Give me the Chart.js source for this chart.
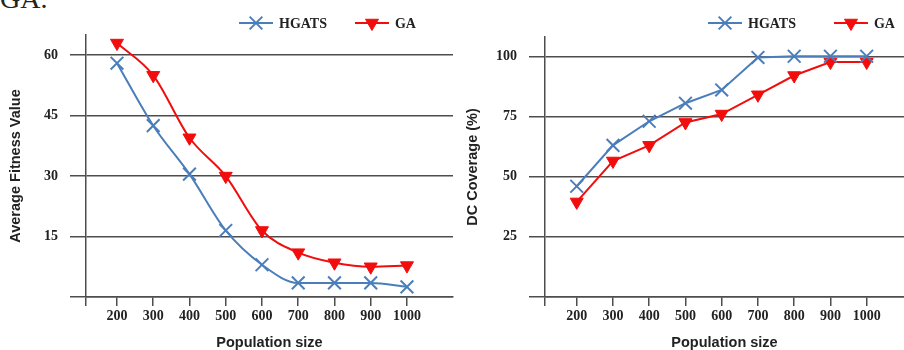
<!DOCTYPE html>
<html>
<head>
<meta charset="utf-8">
<script src="https://cdn.jsdelivr.net/npm/chart.js@4/dist/chart.umd.min.js"></script>
<style>
  body { margin: 0; width: 904px; height: 350px; background: #fff; overflow: hidden; position: relative; }
  #caption { position: absolute; left: 0; top: -15px; font: 28px/28px "Liberation Serif", serif; color: #222; }
  #fitnessChart { position: absolute; left: 0; top: 0; }
  #coverageChart { position: absolute; left: 455px; top: 0; }
</style>
</head>
<body>
<div id="caption">GA.</div>
<canvas id="fitnessChart" width="455" height="350"></canvas>
<canvas id="coverageChart" width="449" height="350"></canvas>
<script>
const populationSizes = [200, 300, 400, 500, 600, 700, 800, 900, 1000];

const fitnessHGATS = [58, 42.5, 30.5, 16.5, 8, 3.5, 3.5, 3.5, 2.5];
const fitnessGA = [63, 55, 39.5, 30, 16.5, 11, 8.5, 7.5, 7.8];
const fitnessTicks = [15, 30, 45, 60];

const coverageHGATS = [46, 63, 73, 80.5, 86, 99.5, 100, 100, 100];
const coverageGA = [39.5, 56.5, 63, 72.5, 76, 84, 92, 97.6, 97.6];
const coverageTicks = [25, 50, 75, 100];

const blue = '#4a7ebb';
const red = '#f20d0d';
const gridColor = '#4d4d4d';
const tickFont = { family: '"Liberation Serif", serif', size: 14, weight: 'bold' };
const titleFont = { family: '"Liberation Sans", Arial, sans-serif', size: 14.5, weight: 'bold' };

function toPoints(values) {
  return values.map((v, i) => ({ x: populationSizes[i], y: v }));
}

// legend drawn as line + marker + label, like the excel one
const lineLegend = {
  id: 'lineLegend',
  afterDraw(chart, args, opts) {
    const ctx = chart.ctx;
    let x = opts.x;
    const y = opts.y;
    ctx.save();
    ctx.font = 'bold 14px "Liberation Serif", serif';
    ctx.textBaseline = 'middle';
    chart.data.datasets.forEach(ds => {
      ctx.strokeStyle = ds.borderColor;
      ctx.fillStyle = ds.pointBackgroundColor;
      ctx.lineWidth = 2;
      ctx.beginPath();
      ctx.moveTo(x, y);
      ctx.lineTo(x + opts.lineLen, y);
      ctx.stroke();
      ctx.lineWidth = ds.pointBorderWidth;
      Chart.helpers.drawPoint(ctx, {
        pointStyle: ds.pointStyle,
        rotation: ds.pointRotation || 0,
        radius: ds.pointRadius,
        borderWidth: ds.pointBorderWidth
      }, x + opts.lineLen / 2, y);
      ctx.fillStyle = '#222';
      ctx.fillText(ds.label, x + opts.lineLen + 6, y + 1);
      x += opts.lineLen + 6 + ctx.measureText(ds.label).width + opts.gap;
    });
    ctx.restore();
  }
};

function hgatsSet(data, smooth) {
  return {
    label: 'HGATS', data: toPoints(data),
    borderColor: blue, backgroundColor: blue, borderWidth: 2,
    pointStyle: 'crossRot', pointRadius: 9, pointBorderWidth: 2,
    pointBorderColor: blue, pointBackgroundColor: blue,
    cubicInterpolationMode: smooth ? 'monotone' : 'default', tension: 0
  };
}

function gaSet(data, smooth) {
  return {
    label: 'GA', data: toPoints(data),
    borderColor: red, backgroundColor: red, borderWidth: 2,
    pointStyle: 'triangle', pointRotation: 180, pointRadius: 7.5, pointBorderWidth: 1,
    pointBorderColor: red, pointBackgroundColor: red,
    cubicInterpolationMode: smooth ? 'monotone' : 'default', tension: 0
  };
}

function makeChart(canvasId, cfg) {
  return new Chart(document.getElementById(canvasId), {
    type: 'line',
    data: { datasets: [hgatsSet(cfg.hgats, cfg.smooth), gaSet(cfg.ga, cfg.smooth)] },
    plugins: [lineLegend],
    options: {
      responsive: false,
      animation: false,
      layout: { autoPadding: false, padding: { top: cfg.top, right: cfg.right, left: 0, bottom: 0 } },
      plugins: {
        legend: { display: false },
        tooltip: { enabled: false },
        lineLegend: cfg.legend
      },
      scales: {
        x: {
          type: 'linear',
          min: cfg.xMin, max: cfg.xMax,
          afterBuildTicks: s => { s.ticks = [cfg.xMin].concat(populationSizes).map(v => ({ value: v })); },
          afterFit: s => { s.height = 53; s.paddingLeft = 0; s.paddingRight = 0; },
          grid: { drawOnChartArea: false, drawTicks: true, tickLength: 9, color: gridColor, lineWidth: 1.5 },
          border: { color: gridColor, width: 1.5 },
          ticks: {
            font: tickFont, color: '#222', padding: 2, maxRotation: 0, autoSkip: false,
            callback: v => populationSizes.includes(v) ? String(v) : ''
          },
          title: { display: true, text: 'Population size', font: titleFont, color: '#222', padding: { top: 0, bottom: -2 } }
        },
        y: {
          min: 0, max: cfg.yMax,
          afterBuildTicks: s => { s.ticks = [0].concat(cfg.yTicks).map(v => ({ value: v })); },
          afterFit: s => { s.width = cfg.axisWidth; },
          grid: { color: gridColor, lineWidth: 1.5, tickLength: 16 },
          border: { color: gridColor, width: 1.5 },
          ticks: {
            font: tickFont, color: '#222', padding: 12,
            callback: v => v === 0 ? '' : String(v)
          },
          title: { display: true, text: cfg.yTitle, font: titleFont, color: '#222', padding: { top: cfg.titlePad, bottom: 0 } }
        }
      }
    }
  });
}

makeChart('fitnessChart', {
  hgats: fitnessHGATS, ga: fitnessGA, smooth: true,
  yTicks: fitnessTicks, yMax: 65, yTitle: 'Average Fitness Value', titlePad: 7,
  xMin: 114.5, xMax: 1127, axisWidth: 86, top: 35, right: 2,
  legend: { x: 239, y: 23, lineLen: 34, gap: 28 }
});

makeChart('coverageChart', {
  hgats: coverageHGATS, ga: coverageGA, smooth: false,
  yTicks: coverageTicks, yMax: 108, yTitle: 'DC Coverage (%)', titlePad: 9,
  xMin: 112.5, xMax: 1103, axisWidth: 90, top: 37, right: 0,
  legend: { x: 253, y: 23, lineLen: 34, gap: 38 }
});
</script>
</body>
</html>
